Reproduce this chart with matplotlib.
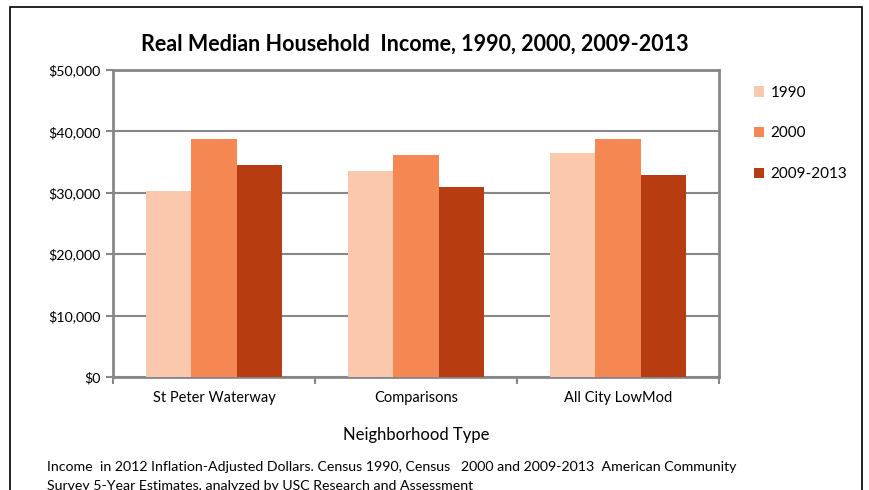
import matplotlib
matplotlib.use('Agg')
import numpy as np
from matplotlib import pyplot as plt
from matplotlib.patches import Rectangle
from matplotlib.ticker import FuncFormatter

plt.rcParams['font.family'] = ['Lato', 'DejaVu Sans']

# data
categories = ['St Peter Waterway', 'Comparisons', 'All City LowMod']
series_names = ['1990', '2000', '2009-2013']
income_1990 = [30300, 33500, 36500]
income_2000 = [38800, 36150, 38750]
income_2009_2013 = [34500, 30900, 32900]
colors = ['#F9C8AD', '#F58753', '#B73C12']

fig = plt.figure(figsize=(8.69, 4.90), dpi=100)
ax = fig.add_axes([113 / 869, 1 - 377 / 490, 606 / 869, 307 / 490])

grey = '#878787'
x = np.arange(len(categories))
width = 0.223
all_series = [income_1990, income_2000, income_2009_2013]
for i, (vals, name) in enumerate(zip(all_series, series_names)):
    ax.bar(x + (i - 1) * width, vals, width, color=colors[i], label=name, zorder=3)

ax.set_xlim(-0.5, 2.5)
ax.set_ylim(0, 50000)
ax.set_yticks(np.arange(0, 50001, 10000))
ax.yaxis.set_major_formatter(FuncFormatter(lambda v, p: '${:,.0f}'.format(v)))
ax.grid(axis='y', color=grey, linewidth=1.5, zorder=0)

ax.set_xticks([-0.5, 0.5, 1.5, 2.5])
ax.set_xticklabels([])
ax.set_xticks(x, minor=True)
ax.set_xticklabels(categories, minor=True, fontsize=10.5)
ax.tick_params(axis='x', which='minor', length=0, pad=10)
ax.tick_params(axis='x', which='major', length=5, color=grey, width=1.5)
ax.tick_params(axis='y', length=5, color=grey, width=1.5, labelsize=10.3, pad=4)

for s in ax.spines.values():
    s.set_color(grey)
    s.set_linewidth(2)

ax.set_xlabel('Neighborhood Type', fontsize=12, labelpad=16)

fig.text(415 / 869, 1 - 44 / 490, 'Real Median Household  Income, 1990, 2000, 2009-2013',
         ha='center', va='center', fontsize=15.5, fontweight='bold')

ax.legend(loc='upper left', bbox_to_anchor=(740 / 869, 1 - 72 / 490),
          bbox_transform=fig.transFigure, frameon=False, fontsize=11,
          handlelength=0.7, handleheight=0.7, handletextpad=0.4, labelspacing=1.75)

fig.text(47 / 869, 1 - 467 / 490,
         'Income  in 2012 Inflation-Adjusted Dollars. Census 1990, Census   2000 and 2009-2013  American Community',
         ha='left', va='center', fontsize=10.2)
fig.text(47 / 869, 1 - 486 / 490,
         'Survey 5-Year Estimates, analyzed by USC Research and Assessment',
         ha='left', va='center', fontsize=10.2)

# outer chart border
fig.patches.append(Rectangle((10 / 869, -0.1), 852 / 869, 1.1 - 7 / 490,
                             transform=fig.transFigure, fill=False,
                             edgecolor='black', linewidth=1.2))

fig.savefig('out.png', dpi=100)
